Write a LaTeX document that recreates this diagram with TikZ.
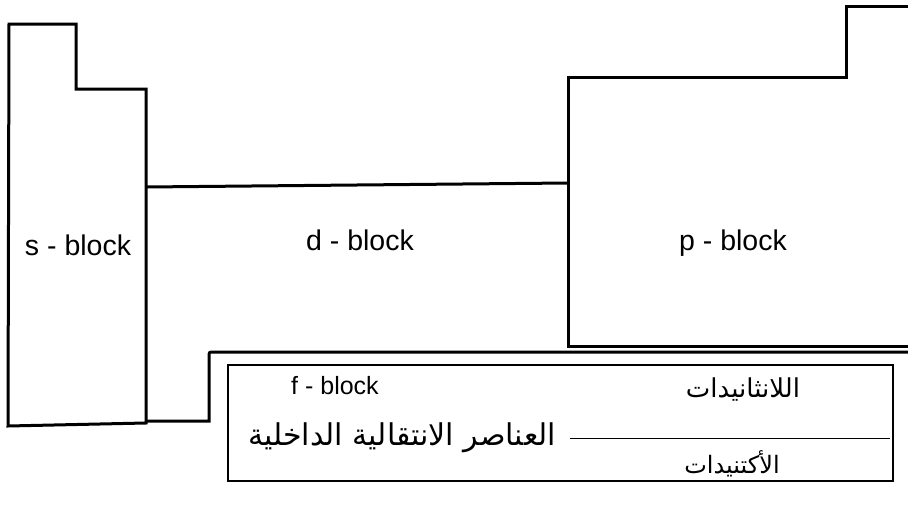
\documentclass[tikz,border=0pt]{standalone}
\usepackage{fontspec}
\setmainfont{Liberation Sans}
\newfontfamily\arabicfont[Script=Arabic]{DejaVu Sans}
\TeXXeTstate=1
\begin{document}
\begin{tikzpicture}[x=1pt,y=-1pt,
  edge/.style={line width=3pt, line join=miter},
  inbox/.style={line width=2.6pt},
  divline/.style={line width=1pt},
  lbl/.style={font=\fontsize{28.5}{32}\selectfont, inner sep=0pt},
  flbl/.style={font=\fontsize{25}{29}\selectfont, inner sep=0pt},
  ar/.style={font=\arabicfont, inner sep=0pt}]
\useasboundingbox (0,0) rectangle (908,506);
% s-block
\draw[edge] (9,24) -- (76,24) -- (76,89) -- (146,89) -- (146,423) -- (8,426) -- cycle;
% d-block top
\draw[edge] (146,187) -- (568,183);
% p-block
\draw[edge] (908,6) -- (846,6) -- (846,77) -- (568,77) -- (568,346) -- (908,346);
% outer f-block line
\draw[edge] (146,421) -- (209,421) -- (209,357) .. controls (209,352) .. (214,352) -- (908,352);
% inner f-block box
\draw[inbox] (228,365) rectangle (893,481);
\draw[divline] (570,438) -- (890,438);
% labels
\node[lbl] (s) at (78,245) {s - block};
\node[lbl] (d) at (360,240) {d - block};
\node[lbl] (p) at (733,243) {p - block};
\node[flbl] (f) at (335,386) {f - block};
\node[ar, font=\arabicfont\fontsize{26}{30}\selectfont] (lan) at (743,390) {\beginR اللانثانيدات\endR};
\node[ar, font=\arabicfont\fontsize{30}{34}\selectfont] (inner) at (402,438) {\beginR العناصر الانتقالية الداخلية\endR};
\node[ar, font=\arabicfont\fontsize{24}{28}\selectfont] (act) at (732,464) {\beginR الأكتنيدات\endR};
\end{tikzpicture}
\end{document}
